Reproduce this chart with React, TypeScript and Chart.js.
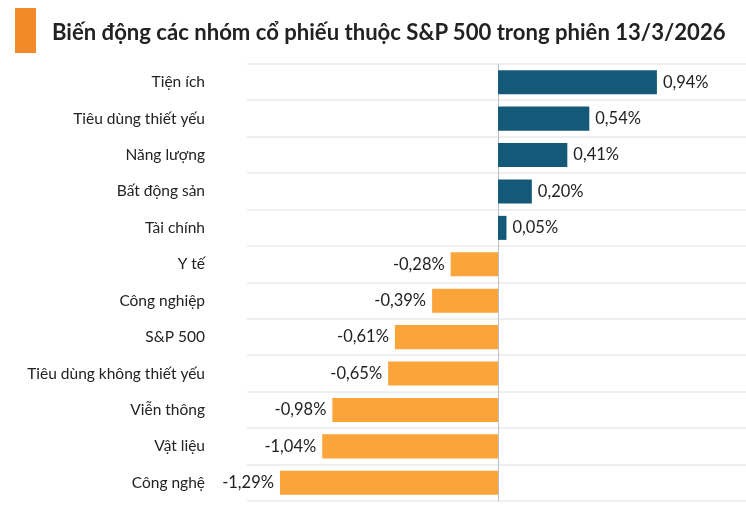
import React, { useEffect, useRef } from "react";
import { Chart, registerables } from "chart.js";

Chart.register(...registerables);

const TITLE = "Biến động các nhóm cổ phiếu thuộc S&P 500 trong phiên 13/3/2026";
const categories = [
  "Tiện ích",
  "Tiêu dùng thiết yếu",
  "Năng lượng",
  "Bất động sản",
  "Tài chính",
  "Y tế",
  "Công nghiệp",
  "S&P 500",
  "Tiêu dùng không thiết yếu",
  "Viễn thông",
  "Vật liệu",
  "Công nghệ",
];
const values = [0.94, 0.54, 0.41, 0.2, 0.05, -0.28, -0.39, -0.61, -0.65, -0.98, -1.04, -1.29];

const BLUE = "#145a78";
const ORANGE = "#faa43a";
const FONT = "Lato, 'Open Sans', sans-serif";

const fmt = (v: number) => v.toFixed(2).replace(".", ",") + "%";

const zeroLine = {
  id: "zeroLine",
  beforeDatasetsDraw(chart: any) {
    const { ctx, chartArea, scales } = chart;
    const x = Math.round(scales.x.getPixelForValue(0)) + 0.5;
    ctx.save();
    ctx.strokeStyle = "#b8c0c8";
    ctx.lineWidth = 1;
    ctx.beginPath();
    ctx.moveTo(x, chartArea.top);
    ctx.lineTo(x, chartArea.bottom);
    ctx.stroke();
    ctx.restore();
  },
};

const valueLabels = {
  id: "valueLabels",
  afterDatasetsDraw(chart: any) {
    const { ctx } = chart;
    const meta = chart.getDatasetMeta(0);
    ctx.save();
    ctx.font = `16.5px ${FONT}`;
    ctx.fillStyle = "#222";
    ctx.textBaseline = "middle";
    meta.data.forEach((bar: any, i: number) => {
      const v = values[i];
      if (v >= 0) {
        ctx.textAlign = "left";
        ctx.fillText(fmt(v), bar.x + 6, bar.y);
      } else {
        ctx.textAlign = "right";
        ctx.fillText(fmt(v), bar.x - 6, bar.y);
      }
    });
    ctx.restore();
  },
};

export default function App() {
  const ref = useRef<HTMLCanvasElement>(null);
  useEffect(() => {
    document.body.style.margin = "0";
    const chart = new Chart(ref.current!, {
      type: "bar",
      data: {
        labels: categories,
        datasets: [
          {
            data: values,
            backgroundColor: values.map((v) => (v >= 0 ? BLUE : ORANGE)),
            barPercentage: 0.66,
            categoryPercentage: 1,
          },
        ],
      },
      options: {
        indexAxis: "y",
        animation: false,
        responsive: false,
        devicePixelRatio: 1,
        layout: { padding: { top: 64, bottom: 7, left: 0, right: 0 } },
        plugins: { legend: { display: false }, tooltip: { enabled: false } },
        scales: {
          x: {
            display: false,
            min: -1.485,
            max: 1.467,
          },
          y: {
            afterFit: (scale: any) => {
              scale.width = 247;
              scale.paddingTop = 0;
              scale.paddingBottom = 0;
            },
            ticks: {
              padding: 42,
              color: "#222",
              font: { family: FONT, size: 15.5 },
            },
            grid: { color: "#efefef", lineWidth: 2, drawTicks: false, tickLength: 0, offset: true },
            border: { display: false },
          },
        },
      },
      plugins: [zeroLine, valueLabels],
    });
    return () => chart.destroy();
  }, []);

  return (
    <div style={{ position: "relative", width: 746, height: 508, background: "#fff", overflow: "hidden" }}>
      <canvas ref={ref} width={746} height={508} style={{ position: "absolute", left: 0, top: 0 }} />
      <div
        style={{
          position: "absolute",
          left: 15,
          top: 8,
          width: 21,
          height: 45,
          background: "#f28a2a",
        }}
      />
      <div
        style={{
          position: "absolute",
          left: 52,
          top: 17,
          fontFamily: FONT,
          fontWeight: 700,
          fontSize: 22.1,
          lineHeight: "30px",
          color: "#222",
          whiteSpace: "nowrap",
        }}
      >
        {TITLE}
      </div>
    </div>
  );
}
